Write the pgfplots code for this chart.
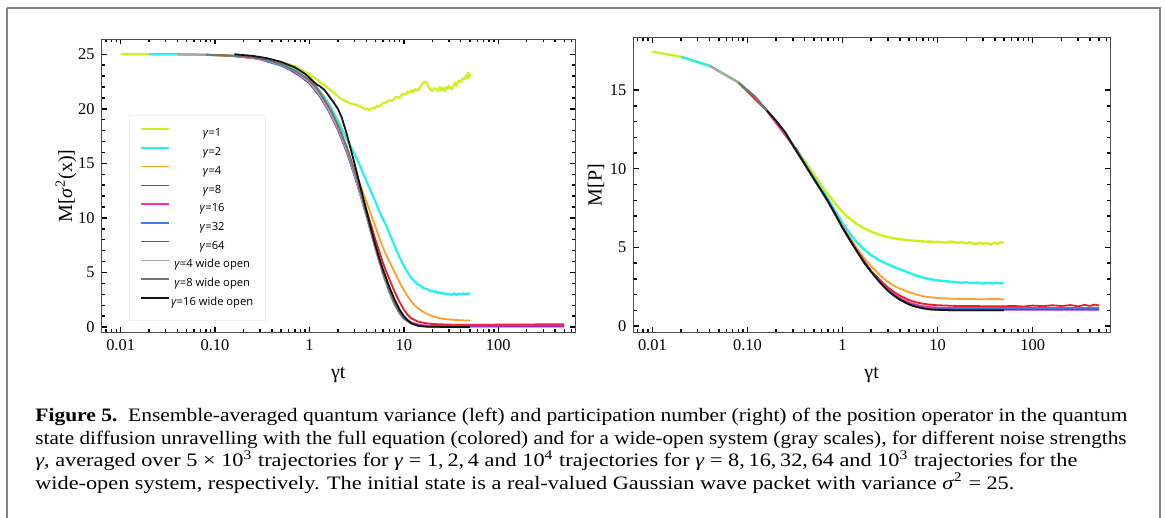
\documentclass[border=0pt]{standalone}
\usepackage{fontspec}
\setmainfont{Liberation Serif}
\newfontfamily\legfont{Open Sans}
\usepackage{graphicx}
\usepackage{pgfplots}
\pgfplotsset{compat=1.18}

\definecolor{cg1}{RGB}{205,240,30}
\definecolor{cg2}{RGB}{40,240,240}
\definecolor{cg4}{RGB}{255,160,40}
\definecolor{cg8}{RGB}{235,30,35}
\definecolor{cg16}{RGB}{255,40,170}
\definecolor{cg32}{RGB}{60,125,230}
\definecolor{cg64}{RGB}{150,40,200}
\definecolor{cw4}{RGB}{165,165,165}
\definecolor{cw8}{RGB}{115,115,115}
\definecolor{cw16}{RGB}{20,20,20}
\definecolor{frame}{RGB}{130,130,130}

\pgfplotsset{
  mstyle/.style={
    scale only axis,
    xmin=0.0063, xmax=650,
    xtick={0.01,0.1,1,10,100},
    xticklabels={0.01,0.10,1,10,100},
    minor xtick={0.007,0.008,0.009,0.02,0.03,0.04,0.05,0.06,0.07,0.08,0.09,
      0.2,0.3,0.4,0.5,0.6,0.7,0.8,0.9,2,3,4,5,6,7,8,9,
      20,30,40,50,60,70,80,90,200,300,400,500,600},
    minor y tick num=4,
    axis line style={black!70, line width=0.5pt},
    every tick/.style={black, line width=0.7pt},
    major tick length=2.6pt, minor tick length=1.6pt,
    tick label style={font=\fontsize{8.2}{9}\selectfont},
    /pgf/number format/assume math mode=true,
    label style={font=\fontsize{9}{10}\selectfont},
    xlabel={γt},
    every axis plot/.append style={line width=0.9pt, line join=round},
  }
}

\newcommand\capfont{\fontsize{9.5}{11}\selectfont}
\newcommand\capline[2]{\resizebox{#1}{\height}{\capfont #2}}
\newcommand\capA{\textbf{Figure 5.}\ \ Ensemble-averaged quantum variance (left) and participation number (right) of the position operator in the quantum}
\newcommand\capB{state diffusion unravelling with the full equation (colored) and for a wide-open system (gray scales), for different noise strengths}
\newcommand\capC{\textit{γ}, averaged over 5 × 10\textsuperscript{3} trajectories for \textit{γ} = 1,\,2,\,4 and 10\textsuperscript{4} trajectories for \textit{γ} = 8,\,16,\,32,\,64 and 10\textsuperscript{3} trajectories for the}
\newcommand\capD{wide-open system, respectively. The initial state is a real-valued Gaussian wave packet with variance \textit{σ}\textsuperscript{2} = 25.}

\begin{document}%
\begin{tikzpicture}
\begin{scope}[x=0.5pt,y=0.5pt]
\useasboundingbox (0,0) rectangle (1165,518);
\draw[frame, line width=1.3pt] (7,510) -- (1160,510) -- (1160,-10) (7,510) -- (7,-10);
\node[anchor=base west, inner sep=0pt] at (35,96.3) {\capline{546pt}{\capA}};
\node[anchor=base west, inner sep=0pt] at (35,73.7) {\capline{545.5pt}{\capB}};
\node[anchor=base west, inner sep=0pt] at (35,51.3) {\capline{521pt}{\capC}};
\node[anchor=base west, inner sep=0pt] at (35,28.7) {\capline{489.5pt}{\capD}};
\end{scope}

% left: quantum variance
\begin{semilogxaxis}[mstyle,
  at={(50.85pt,92.65pt)}, anchor=south west,
  width=236.65pt, height=146.7pt,
  ymin=-0.52, ymax=26.37,
  ytick={0,5,10,15,20,25},
  ylabel={M[\textit{σ}\textsuperscript{2}(x)]},
  every axis y label/.style={at={(axis description cs:-0.0754,0.5)}, rotate=90, anchor=center},
  every axis x label/.style={at={(axis description cs:0.5,-0.144)}, anchor=center},
  legend cell align=center,
  legend image code/.code={\draw[#1] (0pt,2.2pt) -- (14pt,2.2pt);},
  legend image post style={line width=0.75pt},
  legend style={at={(0.058,0.742)}, anchor=north west, draw=black!6, fill=white,
    font=\legfont\fontsize{5.6}{7}\selectfont, inner xsep=5.5pt, inner ysep=5.6pt,
    row sep=2.37pt, nodes={inner sep=0.5pt, text height=4.6pt, text depth=1.4pt},
    /tikz/every even column/.append style={column sep=3pt}},
]
\addplot[cg1, line width=1.1pt] coordinates {(0.01,25.0)(0.02,25.0)(0.04,24.99)(0.08,24.96)(0.15,24.88)(0.25,24.72)(0.35,24.55)(0.5,24.3)(0.7,23.9)(0.85,23.5)(1,23.15)(1.2,22.7)(1.5,22.05)(1.8,21.5)(2.1,21.0)(2.4,20.7)(2.7,20.5)(3.0,20.4)(3.3,20.3)(3.6,20.15)(3.9,19.95)(4.1,20.05)(4.3,19.85)(4.6,20.1)(4.9,20.0)(5.2,20.3)(5.5,20.2)(6,20.5)(6.5,20.6)(7,20.8)(7.5,20.7)(8,21.0)(8.5,21.1)(9,21.0)(9.5,21.3)(10,21.4)(10.5,21.3)(11,21.6)(11.5,21.5)(12,21.7)(12.5,21.5)(13,21.8)(14,21.7)(15,22.0)(15.5,22.2)(16.5,22.5)(17.5,22.4)(18.5,21.9)(19.5,21.7)(20,21.6)(21,21.9)(22,21.8)(23,21.6)(24,22.0)(25,21.7)(26,21.9)(27,21.6)(28,22.0)(29,21.8)(30,22.1)(32,21.8)(34,22.2)(35,22.4)(36,22.1)(38,22.6)(40,22.4)(42,22.8)(44,22.7)(46,23.1)(47,22.8)(48,23.3)(49,22.9)(50,23.2)};
\addlegendentry{\textit{γ}=1}
\addplot[cg2, line width=1.1pt] coordinates {(0.02,25.0)(0.04,24.99)(0.08,24.95)(0.15,24.86)(0.25,24.7)(0.35,24.5)(0.5,24.15)(0.7,23.6)(1,22.6)(1.3,21.6)(1.6,20.5)(2,18.9)(2.3,17.8)(2.6,16.9)(3,15.9)(3.5,14.6)(4,13.4)(4.5,12.4)(5,11.5)(5.5,10.6)(6,9.9)(6.5,9.3)(7,8.6)(7.5,8.0)(8,7.4)(8.5,6.9)(9,6.4)(9.5,6.0)(10,5.6)(10.5,5.3)(11,5.0)(12,4.5)(13,4.2)(14,3.9)(15,3.8)(16,3.6)(17,3.5)(18,3.45)(19,3.3)(20,3.35)(21,3.2)(22,3.3)(23,3.1)(24,3.2)(25,3.05)(26,3.15)(27,3.0)(28,3.1)(29,2.95)(30,3.05)(32,2.95)(34,3.1)(36,2.95)(38,3.05)(40,3.0)(42,3.1)(44,2.95)(46,3.1)(48,3.0)(50,3.15)};
\addlegendentry{\textit{γ}=2}
\addplot[cg4] coordinates {(0.04,24.99)(0.08,24.95)(0.15,24.86)(0.25,24.68)(0.35,24.5)(0.5,24.1)(0.7,23.5)(1,22.6)(1.3,21.5)(1.6,20.3)(2,18.6)(2.5,16.5)(3,14.4)(3.5,12.9)(4,11.5)(4.5,10.3)(5,9.2)(5.5,8.2)(6,7.3)(6.5,6.6)(7,6.0)(7.5,5.5)(8,5.0)(9,4.1)(10,3.4)(11,2.8)(12,2.35)(13,2.0)(14,1.75)(15,1.55)(17,1.25)(20,1.0)(23,0.85)(26,0.75)(30,0.7)(35,0.65)(40,0.62)(45,0.6)(50,0.6)};
\addlegendentry{\textit{γ}=4}
\addplot[cg8] coordinates {(0.08,24.95)(0.15,24.85)(0.25,24.66)(0.35,24.45)(0.5,24.05)(0.7,23.45)(1,22.5)(1.3,21.3)(1.6,20.0)(2,18.4)(2.5,16.3)(3,14.2)(3.5,12.4)(4,10.8)(4.5,9.3)(5,8.0)(5.5,6.9)(6,5.9)(6.5,5.1)(7,4.4)(7.5,3.8)(8,3.2)(9,2.3)(10,1.6)(11,1.1)(12,0.8)(14,0.5)(17,0.35)(20,0.28)(30,0.22)(50,0.2)(100,0.22)(200,0.23)(300,0.25)(500,0.26)};
\addlegendentry{\textit{γ}=8}
\addplot[cg16] coordinates {(0.16,24.85)(0.25,24.65)(0.35,24.42)(0.5,24.0)(0.7,23.4)(1,22.4)(1.3,21.2)(1.6,19.9)(2,18.2)(2.5,16.1)(3,14.0)(3.5,12.1)(4,10.4)(5,7.4)(6,5.1)(7,3.4)(8,2.2)(9,1.4)(10,0.9)(12,0.4)(15,0.18)(20,0.12)(50,0.12)(500,0.13)};
\addlegendentry{\textit{γ}=16}
\addplot[cg32] coordinates {(0.32,24.45)(0.5,23.95)(0.7,23.35)(1,22.35)(1.3,21.1)(1.6,19.8)(2,18.1)(2.5,16.0)(3,13.9)(3.5,12.0)(4,10.3)(5,7.3)(6,5.0)(7,3.3)(8,2.1)(9,1.3)(10,0.8)(12,0.35)(15,0.12)(20,0.07)(500,0.08)};
\addlegendentry{\textit{γ}=32}
\addplot[cg64] coordinates {(0.64,23.5)(0.8,23.0)(1,22.35)(1.3,21.1)(1.6,19.8)(2,18.1)(2.5,16.0)(3,13.9)(3.5,12.0)(4,10.3)(5,7.3)(6,5.0)(7,3.3)(8,2.1)(9,1.3)(10,0.8)(12,0.35)(15,0.1)(20,0.05)(500,0.05)};
\addlegendentry{\textit{γ}=64}
\addplot[cw4] coordinates {(0.04,24.99)(0.08,24.95)(0.15,24.86)(0.25,24.68)(0.35,24.48)(0.5,24.05)(0.7,23.45)(1,22.45)(1.3,21.2)(1.6,19.9)(2,18.2)(2.5,16.1)(3,14.0)(3.5,12.0)(4,10.2)(5,7.1)(6,4.8)(7,3.2)(8,2.0)(9,1.25)(10,0.75)(12,0.3)(15,0.08)(20,0.02)(50,0.0)};
\addlegendentry{\textit{γ}=4 wide open}
\addplot[cw8] coordinates {(0.08,24.96)(0.15,24.87)(0.25,24.7)(0.35,24.5)(0.5,24.1)(0.7,23.5)(0.9,22.9)(1,22.6)(1.2,21.9)(1.4,21.0)(1.7,19.8)(2,18.5)(2.5,16.4)(3,14.3)(3.5,12.3)(4,10.4)(5,7.3)(6,5.0)(7,3.3)(8,2.1)(9,1.3)(10,0.8)(12,0.32)(15,0.1)(20,0.03)(50,0.0)};
\addlegendentry{\textit{γ}=8 wide open}
\addplot[cw16] coordinates {(0.16,25.0)(0.25,24.85)(0.35,24.65)(0.5,24.3)(0.7,23.8)(0.9,23.2)(1,22.85)(1.1,22.5)(1.2,22.2)(1.3,22.05)(1.45,21.7)(1.6,21.2)(1.8,20.6)(2,20.0)(2.2,19.2)(2.5,17.6)(3,15.0)(3.5,12.7)(4,10.7)(4.5,9.0)(5,7.5)(5.5,6.3)(6,5.3)(7,3.7)(8,2.5)(9,1.6)(10,1.0)(11,0.6)(12,0.35)(14,0.12)(17,0.04)(20,0.02)(50,0.0)};
\addlegendentry{\textit{γ}=16 wide open}
\end{semilogxaxis}

% right: participation number
\begin{semilogxaxis}[mstyle,
  at={(316.65pt,92.85pt)}, anchor=south west,
  width=238.35pt, height=147.4pt,
  ymin=-0.4, ymax=18.35,
  ytick={0,5,10,15},
  ylabel={M[P]},
  every axis y label/.style={at={(axis description cs:-0.0782,0.5)}, rotate=90, anchor=center},
  every axis x label/.style={at={(axis description cs:0.5,-0.145)}, anchor=center},
]
\addplot[cg1, line width=1.2pt] coordinates {(0.01,17.45)(0.02,17.12)(0.04,16.55)(0.08,15.5)(0.16,13.7)(0.25,12.3)(0.3,11.55)(0.4,10.5)(0.5,9.65)(0.6,8.95)(0.7,8.4)(0.85,7.75)(1,7.25)(1.2,6.8)(1.4,6.5)(1.7,6.2)(2,6.0)(2.5,5.78)(3,5.65)(4,5.52)(5,5.45)(7,5.38)(10,5.35)(12,5.3)(14,5.38)(16,5.28)(18,5.34)(20,5.25)(22,5.32)(25,5.2)(28,5.3)(30,5.22)(33,5.28)(36,5.18)(40,5.3)(43,5.22)(46,5.35)(50,5.3)};
\addplot[cg2, line width=1.2pt] coordinates {(0.02,17.12)(0.04,16.55)(0.08,15.5)(0.16,13.7)(0.25,12.3)(0.3,11.5)(0.4,10.35)(0.5,9.45)(0.6,8.7)(0.7,8.1)(0.85,7.25)(1,6.55)(1.2,5.85)(1.4,5.35)(1.7,4.85)(2,4.5)(2.5,4.15)(3,3.92)(3.5,3.75)(4,3.62)(5,3.38)(6,3.2)(7,3.08)(8,3.0)(10,2.9)(12,2.85)(15,2.8)(18,2.75)(20,2.78)(23,2.72)(26,2.76)(30,2.7)(34,2.75)(38,2.7)(42,2.76)(46,2.7)(50,2.75)};
\addplot[cg4] coordinates {(0.04,16.55)(0.08,15.5)(0.16,13.7)(0.25,12.3)(0.3,11.5)(0.4,10.3)(0.5,9.35)(0.6,8.6)(0.7,7.95)(0.85,7.1)(1,6.35)(1.2,5.6)(1.4,5.0)(1.7,4.3)(2,3.8)(2.5,3.2)(3,2.8)(3.5,2.55)(4,2.38)(5,2.15)(6,2.0)(7,1.9)(8,1.84)(10,1.78)(15,1.73)(20,1.72)(30,1.7)(40,1.72)(50,1.7)};
\addplot[cg8] coordinates {(0.08,15.5)(0.16,13.7)(0.3,11.5)(0.5,9.35)(0.7,7.95)(1,6.25)(1.4,4.85)(2,3.5)(2.5,2.9)(3,2.45)(3.5,2.15)(4,1.93)(5,1.65)(6,1.5)(7,1.42)(8,1.37)(10,1.32)(15,1.28)(20,1.27)(50,1.25)(60,1.28)(80,1.24)(100,1.3)(130,1.26)(160,1.32)(200,1.27)(250,1.33)(300,1.25)(350,1.34)(400,1.28)(450,1.36)(500,1.3)};
\addplot[cg16] coordinates {(0.16,13.7)(0.3,11.5)(0.5,9.35)(0.7,7.95)(1,6.25)(1.4,4.82)(2,3.47)(2.5,2.8)(3,2.32)(4,1.78)(5,1.5)(6,1.35)(7,1.26)(8,1.21)(10,1.17)(15,1.15)(50,1.15)(500,1.15)};
\addplot[cg32] coordinates {(0.32,11.35)(0.5,9.35)(0.7,7.95)(1,6.25)(1.4,4.8)(2,3.45)(2.5,2.76)(3,2.27)(4,1.7)(5,1.42)(6,1.26)(7,1.17)(8,1.12)(10,1.09)(15,1.08)(500,1.08)};
\addplot[cg64] coordinates {(0.64,8.35)(0.7,7.95)(1,6.25)(1.4,4.8)(2,3.45)(2.5,2.75)(3,2.25)(4,1.68)(5,1.38)(6,1.22)(7,1.13)(8,1.08)(10,1.05)(15,1.04)(500,1.04)};
\addplot[cw4] coordinates {(0.04,16.55)(0.08,15.5)(0.12,14.6)(0.16,13.7)(0.2,13.05)(0.25,12.3)(0.3,11.5)(0.4,10.3)(0.5,9.35)(0.6,8.6)(0.7,7.95)(0.85,7.05)(1,6.25)(1.2,5.45)(1.4,4.8)(1.7,4.0)(2,3.45)(2.5,2.75)(3,2.25)(3.5,1.92)(4,1.68)(5,1.38)(6,1.22)(7,1.13)(8,1.07)(10,1.03)(15,1.0)(50,1.0)};
\addplot[cw8] coordinates {(0.08,15.5)(0.12,14.6)(0.16,13.7)(0.2,13.05)(0.25,12.3)(0.3,11.5)(0.4,10.3)(0.5,9.35)(0.6,8.6)(0.7,7.95)(0.85,7.05)(1,6.25)(1.2,5.45)(1.4,4.8)(1.7,4.0)(2,3.45)(2.5,2.75)(3,2.25)(3.5,1.92)(4,1.68)(5,1.38)(6,1.22)(7,1.13)(8,1.07)(10,1.03)(15,1.0)(50,1.0)};
\addplot[cw16] coordinates {(0.16,13.7)(0.2,13.05)(0.25,12.3)(0.3,11.5)(0.4,10.3)(0.5,9.35)(0.6,8.6)(0.7,7.95)(0.85,7.05)(1,6.25)(1.2,5.45)(1.4,4.8)(1.7,4.0)(2,3.45)(2.5,2.75)(3,2.25)(3.5,1.92)(4,1.68)(5,1.38)(6,1.22)(7,1.13)(8,1.07)(10,1.03)(15,1.0)(50,1.0)};
\end{semilogxaxis}
\end{tikzpicture}%
\end{document}
